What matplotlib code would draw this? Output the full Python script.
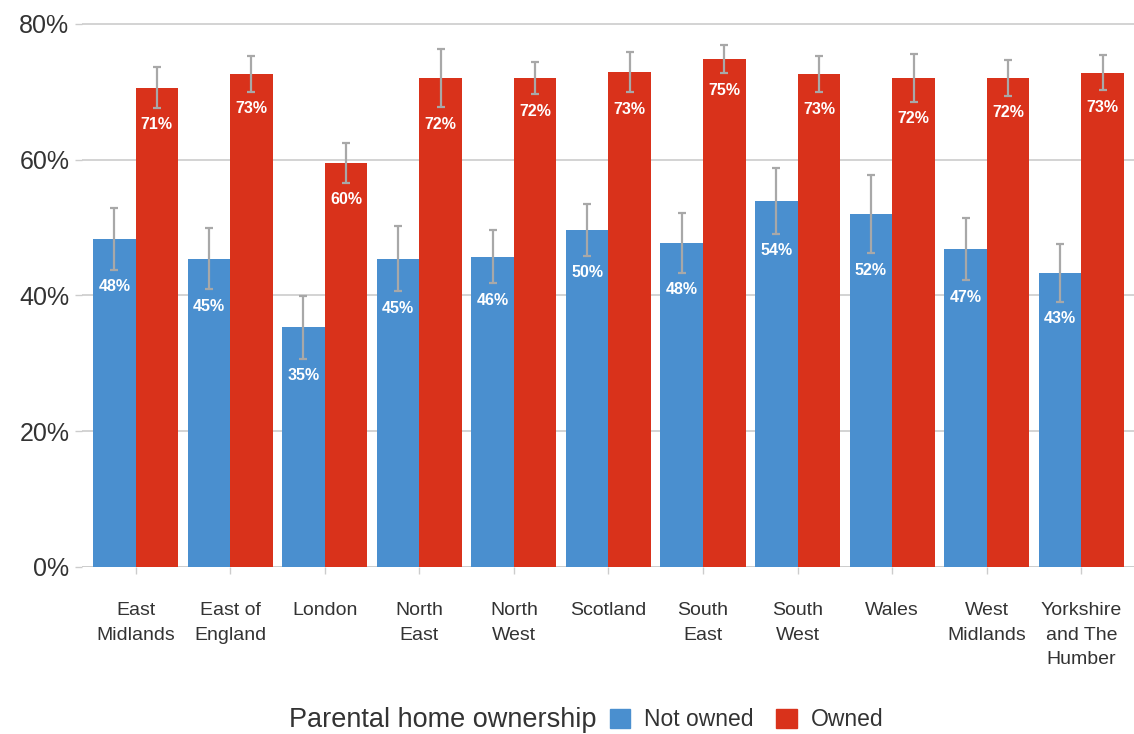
import matplotlib.pyplot as plt
import numpy as np

plt.rcParams['font.family'] = ['Liberation Sans', 'DejaVu Sans']

# Data
regions = ['East\nMidlands', 'East of\nEngland', 'London', 'North\nEast', 'North\nWest',
           'Scotland', 'South\nEast', 'South\nWest', 'Wales', 'West\nMidlands',
           'Yorkshire\nand The\nHumber']
not_owned = [48.3, 45.4, 35.3, 45.4, 45.7, 49.6, 47.7, 53.9, 52.0, 46.8, 43.3]
not_owned_err = [4.5, 4.5, 4.6, 4.8, 3.9, 3.8, 4.4, 4.8, 5.8, 4.6, 4.2]
owned = [70.6, 72.6, 59.5, 72.0, 72.0, 72.9, 74.8, 72.6, 72.0, 72.0, 72.8]
owned_err = [3.0, 2.6, 2.9, 4.3, 2.4, 3.0, 2.1, 2.7, 3.5, 2.6, 2.6]

blue = '#4a8fcf'
red = '#d9321b'
err_col = '#a8a8a8'

fig = plt.figure(figsize=(11.34, 7.34), dpi=100)
ax = fig.add_axes([82 / 1134, 1 - 567 / 734, 1 - 82 / 1134, (567 - 20) / 734])

x = np.arange(len(regions))
w = 0.45

ax.bar(x - w / 2, not_owned, width=w, color=blue, zorder=2)
ax.bar(x + w / 2, owned, width=w, color=red, zorder=2)
ax.errorbar(x - w / 2, not_owned, yerr=not_owned_err, fmt='none', ecolor=err_col,
            elinewidth=1.6, capsize=3, capthick=1.6, zorder=3)
ax.errorbar(x + w / 2, owned, yerr=owned_err, fmt='none', ecolor=err_col,
            elinewidth=1.6, capsize=3, capthick=1.6, zorder=3)

# value labels just below the lower end of the error bar
for xi, v, e in zip(x - w / 2, not_owned, not_owned_err):
    ax.text(xi, v - e - 2.5, f'{round(v)}%', ha='center', va='center',
            color='white', fontsize=11.5, fontweight='bold', zorder=4)
for xi, v, e in zip(x + w / 2, owned, owned_err):
    ax.text(xi, v - e - 2.5, f'{round(v)}%', ha='center', va='center',
            color='white', fontsize=11.5, fontweight='bold', zorder=4)

ax.set_xlim(-0.566, 10.556)
ax.set_ylim(0, 80.56)
ax.set_yticks([0, 20, 40, 60, 80])
ax.set_yticklabels(['0%', '20%', '40%', '60%', '80%'])
ax.set_xticks(x)
ax.set_xticklabels(regions, linespacing=1.6)
ax.yaxis.grid(True, color='#cccccc', linewidth=1.2, zorder=0)
ax.axhline(0, color='#cccccc', linewidth=1.2, zorder=1)
for s in ax.spines.values():
    s.set_visible(False)
ax.tick_params(axis='y', labelsize=18, colors='#333333', length=5, width=1, color='#cccccc', pad=4)
ax.tick_params(axis='x', labelsize=14, colors='#333333', length=5, width=1, color='#cccccc', pad=20)

# legend laid out horizontally with the title on the left
ly = 1 - 720 / 734
fig.text(289 / 1134, ly, 'Parental home ownership', ha='left', va='center',
         fontsize=19.5, color='#333333')
handles = [plt.Rectangle((0, 0), 1, 1, color=blue), plt.Rectangle((0, 0), 1, 1, color=red)]
fig.legend(handles, ['Not owned', 'Owned'], loc='center left', bbox_to_anchor=(589 / 1134, ly),
           ncol=2, frameon=False, fontsize=16.5, handlelength=0.9, handleheight=0.9,
           handletextpad=0.6, columnspacing=1.0, labelcolor='#333333')

fig.savefig('out.png', dpi=100)
